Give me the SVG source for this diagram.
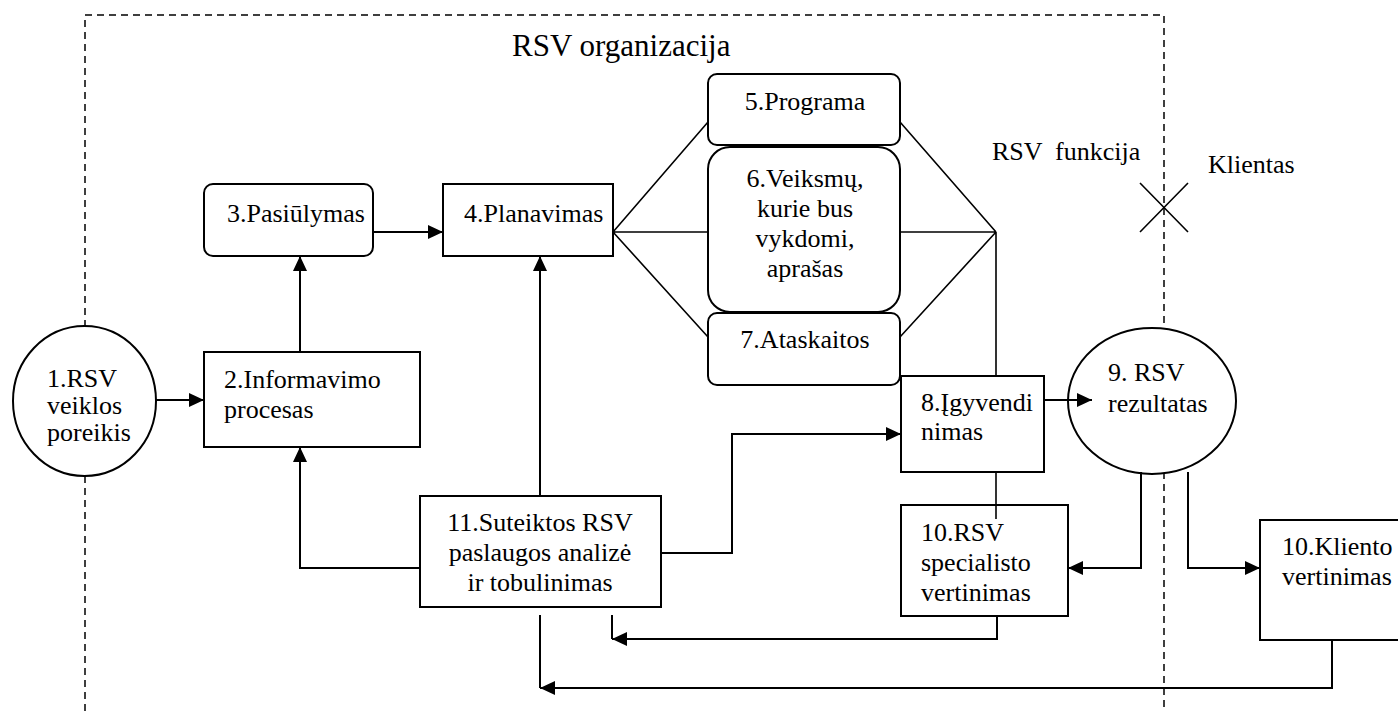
<svg xmlns="http://www.w3.org/2000/svg" width="1398" height="711" viewBox="0 0 1398 711">
<style>
text{font-family:'Liberation Serif','DejaVu Serif',serif;font-size:26px;fill:#000}
.c{text-anchor:middle}
.title{font-size:31px}
.n{fill:#fff;stroke:#000;stroke-width:2}
.l{fill:none;stroke:#000;stroke-width:2}
.f{fill:none;stroke:#000;stroke-width:1.6}
.d{fill:none;stroke:#000;stroke-width:1.5;stroke-dasharray:7 5}
</style>
<defs>
<marker id="ah" markerUnits="userSpaceOnUse" markerWidth="15" markerHeight="14" refX="15" refY="7" orient="auto">
<path d="M0,0 L15,7 L0,14 z" fill="#000"/>
</marker>
</defs>
<rect width="1398" height="711" fill="#fff"/>
<g id="frame" font-family="Liberation Serif, serif">
<path class="d" d="M85,711 V15 H1164 V711"/>
<text class="title" x="512" y="56">RSV organizacija</text>
<text x="992" y="160" xml:space="preserve">RSV  funkcija</text>
<text x="1208" y="173">Klientas</text>
<path class="f" d="M1140,183 L1188,232 M1188,183 L1140,232"/>
</g>
<g id="n1" font-family="Liberation Serif, serif"><ellipse class="n" cx="84.5" cy="401" rx="71.5" ry="75"/>
<text x="47" y="387" font-size="25">1.RSV</text><text x="47" y="414" font-size="25">veiklos</text><text x="47" y="441" font-size="25">poreikis</text></g>
<g id="n2" font-family="Liberation Serif, serif"><rect class="n" x="204" y="352" width="216" height="95"/>
<text x="224" y="388">2.Informavimo</text><text x="224" y="418">procesas</text></g>
<g id="n3" font-family="Liberation Serif, serif"><rect class="n" x="204" y="184" width="169" height="72" rx="9"/>
<text x="227" y="222">3.Pasiūlymas</text></g>
<g id="n4" font-family="Liberation Serif, serif"><rect class="n" x="443" y="184" width="170" height="72"/>
<text x="464" y="222">4.Planavimas</text></g>
<g id="n5" font-family="Liberation Serif, serif"><rect class="n" x="708" y="74" width="192" height="71" rx="9"/>
<text class="c" x="805" y="110">5.Programa</text></g>
<g id="n6" font-family="Liberation Serif, serif"><rect class="n" x="708" y="147" width="192" height="165" rx="22"/>
<text class="c" x="805" y="187">6.Veiksmų,</text><text class="c" x="805" y="217">kurie bus</text><text class="c" x="805" y="247">vykdomi,</text><text class="c" x="805" y="277">aprašas</text></g>
<g id="n7" font-family="Liberation Serif, serif"><rect class="n" x="708" y="313" width="192" height="72" rx="9"/>
<text class="c" x="805" y="348">7.Ataskaitos</text></g>
<g id="n8" font-family="Liberation Serif, serif"><rect class="n" x="901" y="376" width="143" height="96"/>
<text x="921" y="411">8.Įgyvendi</text><text x="921" y="440">nimas</text></g>
<g id="n9" font-family="Liberation Serif, serif"><ellipse class="n" cx="1152" cy="401" rx="84" ry="73"/>
<text x="1108" y="381">9. RSV</text><text x="1108" y="412">rezultatas</text></g>
<g id="n10" font-family="Liberation Serif, serif"><rect class="n" x="901" y="505" width="167" height="111"/>
<text x="921" y="541">10.RSV</text><text x="921" y="571">specialisto</text><text x="921" y="601">vertinimas</text></g>
<g id="n10k" font-family="Liberation Serif, serif"><rect class="n" x="1260" y="520" width="140" height="120"/>
<text x="1282" y="555">10.Kliento</text><text x="1282" y="585">vertinimas</text></g>
<g id="n11" font-family="Liberation Serif, serif"><rect class="n" x="420" y="496" width="241" height="111"/>
<text class="c" x="540" y="531">11.Suteiktos RSV</text><text class="c" x="540" y="561">paslaugos analizė</text><text class="c" x="540" y="591">ir tobulinimas</text></g>
<g id="connectors">
<path class="l" d="M156,400 H204" marker-end="url(#ah)"/>
<path class="l" d="M300,352 V256" marker-end="url(#ah)"/>
<path class="l" d="M373,232 H443" marker-end="url(#ah)"/>
<path class="l" d="M540,496 V256" marker-end="url(#ah)"/>
<path class="l" d="M420,568 H300 V447" marker-end="url(#ah)"/>
<path class="l" d="M661,553 H732 V434 H901" marker-end="url(#ah)"/>
<path class="f" d="M613,232 L708,122 M613,232 H708 M613,232 L708,337"/>
<path class="f" d="M900,122 L996,232 M900,232 H996 M900,337 L996,232 M996,232 V376"/>
<path class="l" d="M1044,400 H1092" marker-end="url(#ah)"/>
<path class="f" d="M996,472 V519"/>
<path class="l" d="M1141,472 V568 H1068" marker-end="url(#ah)"/>
<path class="l" d="M1188,472 V568 H1260" marker-end="url(#ah)"/>
<path class="l" d="M997,616 V639 H612" marker-end="url(#ah)"/>
<path class="l" d="M612,615 V639"/>
<path class="l" d="M1332,640 V688 H540" marker-end="url(#ah)"/>
<path class="l" d="M540,615 V688"/>
</g>
</svg>
